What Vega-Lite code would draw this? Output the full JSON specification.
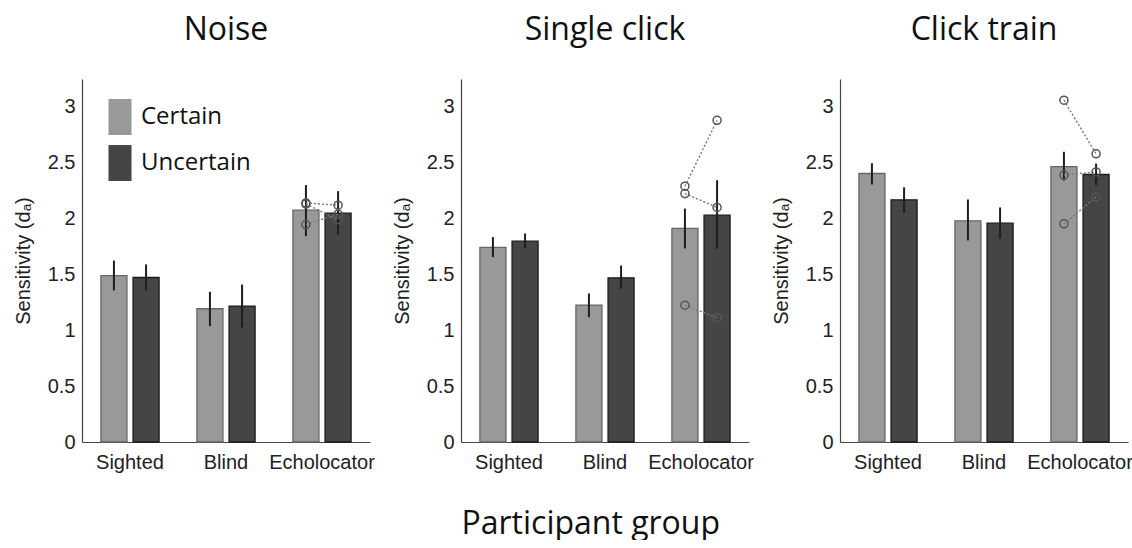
{
  "$schema": "https://vega.github.io/schema/vega-lite/v6.json",
  "background": "white",
  "padding": {"left": 13, "top": 14, "right": 0, "bottom": 0},
  "data": {"values": [
    {"panel": "Noise", "group": "Sighted", "cond": "Certain", "kind": "mean", "value": 1.49, "lo": 1.357, "hi": 1.625},
    {"panel": "Noise", "group": "Sighted", "cond": "Uncertain", "kind": "mean", "value": 1.473, "lo": 1.357, "hi": 1.59},
    {"panel": "Noise", "group": "Blind", "cond": "Certain", "kind": "mean", "value": 1.193, "lo": 1.038, "hi": 1.345},
    {"panel": "Noise", "group": "Blind", "cond": "Uncertain", "kind": "mean", "value": 1.217, "lo": 1.023, "hi": 1.41},
    {"panel": "Noise", "group": "Echolocator", "cond": "Certain", "kind": "mean", "value": 2.076, "lo": 1.843, "hi": 2.3},
    {"panel": "Noise", "group": "Echolocator", "cond": "Uncertain", "kind": "mean", "value": 2.049, "lo": 1.858, "hi": 2.246},
    {"panel": "Single click", "group": "Sighted", "cond": "Certain", "kind": "mean", "value": 1.742, "lo": 1.655, "hi": 1.834},
    {"panel": "Single click", "group": "Sighted", "cond": "Uncertain", "kind": "mean", "value": 1.798, "lo": 1.733, "hi": 1.867},
    {"panel": "Single click", "group": "Blind", "cond": "Certain", "kind": "mean", "value": 1.226, "lo": 1.118, "hi": 1.33},
    {"panel": "Single click", "group": "Blind", "cond": "Uncertain", "kind": "mean", "value": 1.47, "lo": 1.372, "hi": 1.58},
    {"panel": "Single click", "group": "Echolocator", "cond": "Certain", "kind": "mean", "value": 1.912, "lo": 1.733, "hi": 2.09},
    {"panel": "Single click", "group": "Echolocator", "cond": "Uncertain", "kind": "mean", "value": 2.031, "lo": 1.73, "hi": 2.344},
    {"panel": "Click train", "group": "Sighted", "cond": "Certain", "kind": "mean", "value": 2.404, "lo": 2.305, "hi": 2.496},
    {"panel": "Click train", "group": "Sighted", "cond": "Uncertain", "kind": "mean", "value": 2.168, "lo": 2.052, "hi": 2.28},
    {"panel": "Click train", "group": "Blind", "cond": "Certain", "kind": "mean", "value": 1.98, "lo": 1.804, "hi": 2.171},
    {"panel": "Click train", "group": "Blind", "cond": "Uncertain", "kind": "mean", "value": 1.959, "lo": 1.819, "hi": 2.1},
    {"panel": "Click train", "group": "Echolocator", "cond": "Certain", "kind": "mean", "value": 2.466, "lo": 2.341, "hi": 2.598},
    {"panel": "Click train", "group": "Echolocator", "cond": "Uncertain", "kind": "mean", "value": 2.395, "lo": 2.3, "hi": 2.493},
    {"panel": "Noise", "group": "Echolocator", "cond": "Certain", "kind": "indiv", "pid": "E1", "value": 2.14},
    {"panel": "Noise", "group": "Echolocator", "cond": "Uncertain", "kind": "indiv", "pid": "E1", "value": 2.12},
    {"panel": "Noise", "group": "Echolocator", "cond": "Certain", "kind": "indiv", "pid": "E2", "value": 2.13},
    {"panel": "Noise", "group": "Echolocator", "cond": "Uncertain", "kind": "indiv", "pid": "E2", "value": 1.99},
    {"panel": "Noise", "group": "Echolocator", "cond": "Certain", "kind": "indiv", "pid": "E3", "value": 1.947},
    {"panel": "Noise", "group": "Echolocator", "cond": "Uncertain", "kind": "indiv", "pid": "E3", "value": 2.04},
    {"panel": "Single click", "group": "Echolocator", "cond": "Certain", "kind": "indiv", "pid": "E1", "value": 2.29},
    {"panel": "Single click", "group": "Echolocator", "cond": "Uncertain", "kind": "indiv", "pid": "E1", "value": 2.88},
    {"panel": "Single click", "group": "Echolocator", "cond": "Certain", "kind": "indiv", "pid": "E2", "value": 2.224},
    {"panel": "Single click", "group": "Echolocator", "cond": "Uncertain", "kind": "indiv", "pid": "E2", "value": 2.1},
    {"panel": "Single click", "group": "Echolocator", "cond": "Certain", "kind": "indiv", "pid": "E3", "value": 1.225},
    {"panel": "Single click", "group": "Echolocator", "cond": "Uncertain", "kind": "indiv", "pid": "E3", "value": 1.112},
    {"panel": "Click train", "group": "Echolocator", "cond": "Certain", "kind": "indiv", "pid": "E1", "value": 3.06},
    {"panel": "Click train", "group": "Echolocator", "cond": "Uncertain", "kind": "indiv", "pid": "E1", "value": 2.58},
    {"panel": "Click train", "group": "Echolocator", "cond": "Certain", "kind": "indiv", "pid": "E2", "value": 2.39},
    {"panel": "Click train", "group": "Echolocator", "cond": "Uncertain", "kind": "indiv", "pid": "E2", "value": 2.418},
    {"panel": "Click train", "group": "Echolocator", "cond": "Certain", "kind": "indiv", "pid": "E3", "value": 1.953},
    {"panel": "Click train", "group": "Echolocator", "cond": "Uncertain", "kind": "indiv", "pid": "E3", "value": 2.194}
  ]},
  "title": {"text": "Participant group", "orient": "bottom", "anchor": "middle", "font": "Open Sans", "fontSize": 32, "fontWeight": "normal", "color": "#111111", "offset": 37, "dx": 18},
  "facet": {
    "column": {
      "field": "panel", "type": "nominal",
      "sort": ["Noise", "Single click", "Click train"],
      "header": {"title": null, "labelFont": "Open Sans", "labelFontSize": 32, "labelColor": "#111111", "labelPadding": 32, "labelOrient": "top"}
    }
  },
  "spacing": 17,
  "resolve": {"axis": {"y": "independent", "x": "independent"}},
  "spec": {
    "width": 288,
    "height": 363,
    "encoding": {
      "x": {
        "field": "group", "type": "nominal",
        "sort": ["Sighted", "Blind", "Echolocator"],
        "scale": {"paddingInner": 0.394, "paddingOuter": 0.197},
        "axis": {"title": null, "labelAngle": 0, "labelFont": "Liberation Sans", "labelFontSize": 20, "labelColor": "#222222", "labelPadding": 10, "ticks": false, "domainColor": "#444444", "domainWidth": 1.2}
      },
      "xOffset": {"field": "cond", "type": "nominal", "sort": ["Certain", "Uncertain"], "scale": {"paddingInner": 0.19, "paddingOuter": 0}}
    },
    "layer": [
      {
        "transform": [{"filter": "datum.kind === 'mean'"}],
        "mark": {"type": "bar", "strokeWidth": 1.3},
        "encoding": {
          "y": {
            "field": "value", "type": "quantitative",
            "scale": {"domain": [0, 3.25], "nice": false, "zero": true},
            "axis": {"title": "Sensitivity (dₐ)", "titleFont": "Liberation Sans", "titleFontSize": 20, "titleFontWeight": "normal", "titleColor": "#222222", "titlePadding": 14, "values": [0, 0.5, 1, 1.5, 2, 2.5, 3], "format": "~g", "labelFont": "Liberation Sans", "labelFontSize": 20, "labelColor": "#222222", "labelPadding": 7, "ticks": false, "grid": false, "domainColor": "#444444", "domainWidth": 1.2}
          },
          "color": {
            "field": "cond", "type": "nominal",
            "scale": {"domain": ["Certain", "Uncertain"], "range": ["#999999", "#454545"]},
            "legend": {
              "title": null, "orient": "none", "legendX": 20, "legendY": 20,
              "symbolType": "M-0.64,-1H0.64V1H-0.64Z", "symbolSize": 1296, "symbolStrokeWidth": 0,
              "labelFont": "Open Sans", "labelFontSize": 24, "labelColor": "#111111", "labelOffset": 3, "rowPadding": 10,
              "encode": {"symbols": {"update": {"fill": {"signal": "datum.value === 'Uncertain' ? '#050505' : '#999999'"}, "stroke": {"value": "transparent"}, "fillOpacity": {"value": 1}}}}
            }
          },
          "stroke": {
            "field": "cond", "type": "nominal",
            "scale": {"domain": ["Certain", "Uncertain"], "range": ["#666666", "#1a1a1a"]},
            "legend": null
          }
        }
      },
      {
        "transform": [{"filter": "datum.kind === 'mean'"}],
        "mark": {"type": "rule", "color": "#1e1e1e", "strokeWidth": 2},
        "encoding": {
          "y": {"field": "lo", "type": "quantitative"},
          "y2": {"field": "hi"}
        }
      },
      {
        "transform": [{"filter": "datum.kind === 'indiv'"}],
        "mark": {"type": "line", "color": "#777777", "strokeWidth": 1.4, "strokeDash": [2, 2]},
        "encoding": {
          "y": {"field": "value", "type": "quantitative"},
          "detail": {"field": "pid"},
          "order": {"field": "cond"}
        }
      },
      {
        "transform": [{"filter": "datum.kind === 'indiv'"}],
        "mark": {"type": "point", "shape": "circle", "filled": false, "size": 65, "color": "#555555", "strokeWidth": 1.5, "opacity": 1},
        "encoding": {
          "y": {"field": "value", "type": "quantitative"}
        }
      }
    ]
  },
  "config": {"view": {"stroke": null}}
}
